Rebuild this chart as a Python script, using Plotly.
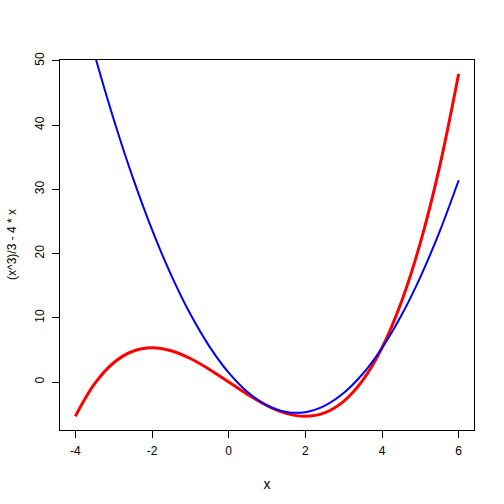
import plotly.graph_objects as go

x_vals = [-4, -3.5, -3, -2.5, -2, -1.5, -1, -0.5, 0, 0.5, 1, 1.5, 2, 2.5, 3, 3.5, 4, 4.5, 5, 5.5, 6]
red_y = [-5.333, -0.292, 3.0, 4.792, 5.333, 4.875, 3.667, 1.958, 0.0, -1.958, -3.667, -4.875,
         -5.333, -4.792, -3.0, 0.292, 5.333, 12.375, 21.667, 33.458, 48.0]
blue_y = [62.13, 51.02, 40.92, 31.82, 23.73, 16.65, 10.58, 5.52, 1.46, -1.59, -3.63, -4.66,
          -4.69, -3.70, -1.71, 1.29, 5.30, 10.31, 16.34, 23.37, 31.41]
x_ticks = [-4, -2, 0, 2, 4, 6]
x_tick_labels = ["-4", "-2", "0", "2", "4", "6"]
y_ticks = [0, 10, 20, 30, 40, 50]
y_tick_labels = ["0", "10", "20", "30", "40", "50"]
y_title = "(x^3)/3 - 4 * x"

fig = go.Figure()
fig.add_trace(go.Scatter(x=x_vals, y=red_y, mode="lines", line=dict(color="red", width=3, shape="spline"), showlegend=False))
fig.add_trace(go.Scatter(x=x_vals, y=blue_y, mode="lines", line=dict(color="blue", width=2, shape="spline"), showlegend=False))

font = dict(family="Liberation Sans, Arial, sans-serif", size=12, color="black")
fig.update_layout(
    width=504, height=504,
    margin=dict(l=60, r=30, t=60, b=74, autoexpand=False),
    paper_bgcolor="white", plot_bgcolor="white",
    font=font,
    xaxis=dict(range=[-4.4, 6.4], tickvals=x_ticks, ticktext=x_tick_labels, ticks="outside", ticklen=7,
               tickcolor="black", ticklabelstandoff=3,
               showline=True, linecolor="black", linewidth=1, mirror=True, showgrid=False, zeroline=False,
               title=dict(text="x", standoff=21)),
    yaxis=dict(range=[-7.467, 50.133], tickvals=y_ticks, ticktext=y_tick_labels, ticks="outside", ticklen=7,
               tickcolor="black", tickangle=-90, ticklabelstandoff=3,
               showline=True, linecolor="black", linewidth=1, mirror=True, showgrid=False, zeroline=False),
    annotations=[dict(text=y_title, xref="paper", yref="paper", x=0, y=0.5, xanchor="center", yanchor="middle",
                      xshift=-48, textangle=-90, showarrow=False, font=font)],
)
fig.write_html("out.html", config={"displayModeBar": False},
               post_script="document.body.style.margin='0';document.body.style.overflow='hidden';")
